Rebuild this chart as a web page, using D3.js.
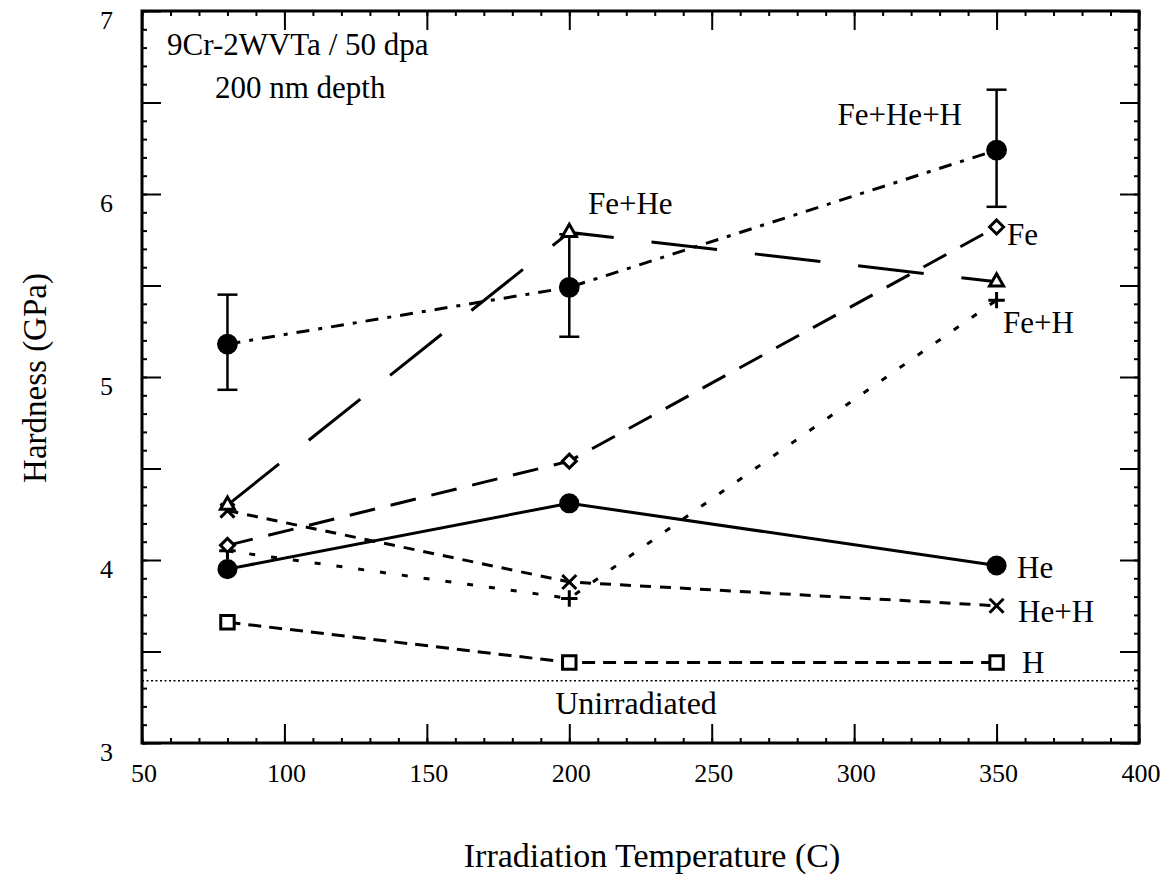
<!DOCTYPE html>
<html>
<head>
<meta charset="utf-8">
<script src="https://cdn.jsdelivr.net/npm/d3@7"></script>
<style>
  html, body { margin: 0; padding: 0; background: #fff; }
  svg { display: block; }
  text { font-family: "Liberation Serif", "Times New Roman", serif; fill: #000; }
</style>
</head>
<body>
<svg id="chart" width="1173" height="892"></svg>
<script>
// ---- data ----
const temps = [80, 200, 350];
const feHeH = [5.18, 5.49, 6.24];
const feHeHErrLow = [4.93, 5.22, 5.93];
const feHeHErrHigh = [5.45, 5.78, 6.57];
const fe = [4.08, 4.54, 5.82];
const feHe = [4.30, 5.79, 5.52];
const feH = [4.05, 3.79, 5.42];
const he = [3.95, 4.31, 3.97];
const heH = [4.27, 3.88, 3.75];
const hOnly = [3.66, 3.44, 3.44];
const unirradiated = 3.34;
const xTicks = [50, 100, 150, 200, 250, 300, 350, 400];
const yTicks = [3, 4, 5, 6, 7];
const seriesNames = ["Fe+He+H", "Fe", "Fe+He", "Fe+H", "He", "He+H", "H"];

// ---- layout ----
const svg = d3.select("#chart");
const x = d3.scaleLinear().domain([50, 400]).range([142, 1139]);
const y = d3.scaleLinear().domain([3, 7]).range([743, 11]);
const X0 = x.range()[0], X1 = x.range()[1], Y0 = y.range()[0], Y1 = y.range()[1];

// axes with inward ticks
const xMinor = d3.range(50, 401, 10);
const yMinor = d3.range(3, 7.001, 0.1).map(v => +v.toFixed(1));
const yMajor = d3.range(3, 7.001, 0.5);
function axisStyle(g) {
  g.select(".domain").remove();
  g.selectAll("line").attr("stroke", "#000").attr("stroke-width", 2);
  g.selectAll("text").remove();
}
svg.append("g").attr("transform", `translate(0,${Y0})`)
  .call(d3.axisBottom(x).tickValues(xMinor).tickSize(-5)).call(axisStyle);
svg.append("g").attr("transform", `translate(0,${Y0})`)
  .call(d3.axisBottom(x).tickValues(xTicks).tickSize(-19)).call(axisStyle);
svg.append("g").attr("transform", `translate(0,${Y1})`)
  .call(d3.axisTop(x).tickValues(xMinor).tickSize(-5)).call(axisStyle);
svg.append("g").attr("transform", `translate(0,${Y1})`)
  .call(d3.axisTop(x).tickValues(xTicks).tickSize(-19)).call(axisStyle);
svg.append("g").attr("transform", `translate(${X0},0)`)
  .call(d3.axisLeft(y).tickValues(yMinor).tickSize(-5)).call(axisStyle);
svg.append("g").attr("transform", `translate(${X0},0)`)
  .call(d3.axisLeft(y).tickValues(yMajor).tickSize(-19)).call(axisStyle);
svg.append("g").attr("transform", `translate(${X1},0)`)
  .call(d3.axisRight(y).tickValues(yMinor).tickSize(-5)).call(axisStyle);
svg.append("g").attr("transform", `translate(${X1},0)`)
  .call(d3.axisRight(y).tickValues(yMajor).tickSize(-19)).call(axisStyle);

svg.append("rect").attr("x", X0).attr("y", Y1).attr("width", X1 - X0).attr("height", Y0 - Y1)
  .attr("fill", "none").attr("stroke", "#000").attr("stroke-width", 3);

// tick labels
svg.append("g").selectAll("text").data(xTicks).join("text")
  .attr("x", d => x(d) + 2).attr("y", 782).attr("text-anchor", "middle")
  .attr("font-size", 26).text(d => d);
svg.append("g").selectAll("text").data(yTicks).join("text")
  .attr("x", 113).attr("y", d => y(d) + 18).attr("text-anchor", "end")
  .attr("font-size", 26).text(d => d);

// axis titles
svg.append("text").attr("x", 652).attr("y", 867).attr("text-anchor", "middle")
  .attr("font-size", 34).text("Irradiation Temperature (C)");
svg.append("text").attr("transform", "translate(46,378) rotate(-90)")
  .attr("text-anchor", "middle").attr("font-size", 33).text("Hardness (GPa)");

// annotations
svg.append("text").attr("x", 167).attr("y", 55).attr("font-size", 31).text("9Cr-2WVTa / 50 dpa");
svg.append("text").attr("x", 215).attr("y", 98).attr("font-size", 31).text("200 nm depth");

// unirradiated line
svg.append("line").attr("x1", X0).attr("x2", X1).attr("y1", y(unirradiated)).attr("y2", y(unirradiated))
  .attr("stroke", "#000").attr("stroke-width", 1.5).attr("stroke-dasharray", "2,2.5");
svg.append("text").attr("x", 636).attr("y", 714).attr("text-anchor", "middle")
  .attr("font-size", 32).text("Unirradiated");

// series lines
const line = d3.line().x((d, i) => x(temps[i])).y(d => y(d));
const seriesDefs = [
  { v: feHeH, dash: "13,9,4,9" },
  { v: fe, dash: "26,16" },
  { v: feHe, dash: "66,38" },
  { v: feH, dash: "6,16" },
  { v: he, dash: null },
  { v: heH, dash: "11,9" },
  { v: hOnly, dash: "13,8" }
];
seriesDefs.forEach(s => {
  svg.append("path").datum(s.v).attr("d", line)
    .attr("fill", "none").attr("stroke", "#000").attr("stroke-width", 3)
    .attr("stroke-dasharray", s.dash);
});

// error bars for Fe+He+H
const eb = svg.append("g").attr("stroke", "#000").attr("stroke-width", 2.5);
temps.forEach((t, i) => {
  eb.append("line").attr("x1", x(t)).attr("x2", x(t)).attr("y1", y(feHeHErrLow[i])).attr("y2", y(feHeHErrHigh[i]));
  eb.append("line").attr("x1", x(t) - 10).attr("x2", x(t) + 10).attr("y1", y(feHeHErrLow[i])).attr("y2", y(feHeHErrLow[i]));
  eb.append("line").attr("x1", x(t) - 10).attr("x2", x(t) + 10).attr("y1", y(feHeHErrHigh[i])).attr("y2", y(feHeHErrHigh[i]));
});

// markers
function markers(vals, type, size, filled) {
  svg.append("g").selectAll("path").data(vals).join("path")
    .attr("transform", (d, i) => `translate(${x(temps[i])},${y(d)})`)
    .attr("d", d3.symbol().type(type).size(size))
    .attr("fill", filled ? "#000" : "#fff")
    .attr("stroke", "#000").attr("stroke-width", 3);
}
markers(hOnly, d3.symbolSquare2, 230, false);
markers(heH, d3.symbolTimes, 130, false);
markers(feH, d3.symbolPlus, 90, false);
markers(feHe, d3.symbolTriangle2, 140, false);
markers(fe, d3.symbolDiamond2, 125, false);
markers(he, d3.symbolCircle, 230, true);
markers(feHeH, d3.symbolCircle, 250, true);

// series labels
const labelPos = [
  { x: 962, y: 125, anchor: "end" },
  { x: 1007, y: 245, anchor: "start" },
  { x: 588, y: 214, anchor: "start" },
  { x: 1003, y: 333, anchor: "start" },
  { x: 1017, y: 578, anchor: "start" },
  { x: 1018, y: 622, anchor: "start" },
  { x: 1022, y: 673, anchor: "start" }
];
svg.append("g").selectAll("text").data(seriesNames).join("text")
  .attr("x", (d, i) => labelPos[i].x).attr("y", (d, i) => labelPos[i].y)
  .attr("text-anchor", (d, i) => labelPos[i].anchor)
  .attr("font-size", 31).text(d => d);
</script>
</body>
</html>
